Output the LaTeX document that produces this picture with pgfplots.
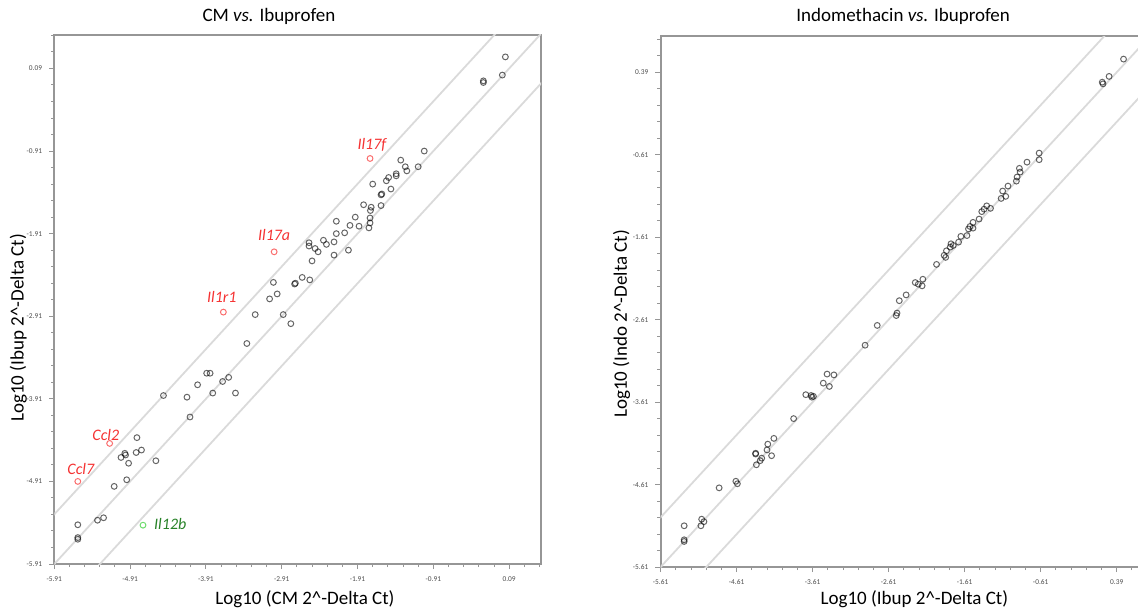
\documentclass[border=0pt]{standalone}
\usepackage{pgfplots}
\pgfplotsset{compat=1.18}
\usepackage{fontspec}
\setmainfont{Carlito}
\definecolor{axgray}{RGB}{150,150,150}
\definecolor{diaggray}{RGB}{218,218,218}
\definecolor{labred}{RGB}{245,50,50}
\definecolor{ptred}{RGB}{250,110,110}
\definecolor{labgreen}{RGB}{40,130,40}
\definecolor{ptgreen}{RGB}{110,220,110}
\pgfplotsset{
 myaxis/.style={
  scale only axis,
  axis line style={draw=axgray, line width=1pt},
  tick align=outside, tick pos=left,
  major tick length=2.6pt, minor tick length=1.6pt,
  every tick/.style={draw=axgray, line width=0.5pt},
  tick label style={font=\fontsize{3.7}{4.2}\selectfont, text=black!70},
  title style={font=\fontsize{9.5}{11}\selectfont, anchor=center, yshift=-6pt},
  xlabel style={font=\fontsize{9.5}{11}\selectfont, anchor=center},
  ylabel style={font=\fontsize{9.5}{11}\selectfont, anchor=center},
 },
 pts/.style={only marks, mark=o, mark size=1.45pt, mark options={draw=black, draw opacity=0.6, line width=0.5pt}},
 diag/.style={draw=diaggray, line width=0.9pt, no marks},
}
\tikzset{glab/.style={font=\fontsize{8}{9}\selectfont\itshape}}
\begin{document}
\begin{tikzpicture}
% ---------------- left panel
\begin{axis}[myaxis,
  at={(27.15pt,21.5pt)}, anchor=south west,
  width=243.35pt, height=264.7pt,
  xmin=-5.91, xmax=0.51, ymin=-5.91, ymax=0.5,
  xtick={-5.91,-4.91,-3.91,-2.91,-1.91,-0.91,0.09},
  xticklabels={-5.91,-4.91,-3.91,-2.91,-1.91,-0.91,0.09},
  ytick={-5.91,-4.91,-3.91,-2.91,-1.91,-0.91,0.09},
  yticklabels={-5.91,-4.91,-3.91,-2.91,-1.91,-0.91,0.09},
  minor xtick={-5.71,-5.51,...,0.49},
  minor ytick={-5.71,-5.51,...,0.49},
  title={CM \textit{vs.} Ibuprofen},
  title style={at={(axis description cs:0.441,1.035)}},
  xlabel={Log10 (CM 2\^{}-Delta Ct)},
  xlabel style={at={(axis description cs:0.515,-0.066)}},
  ylabel={Log10 (Ibup 2\^{}-Delta Ct)},
  ylabel style={at={(axis description cs:-0.074,0.446)}},
]
\addplot[diag] coordinates {(-7,-7) (1,1)};
\addplot[diag] coordinates {(-7,-6.398) (1,1.602)};
\addplot[diag] coordinates {(-7,-7.602) (1,0.398)};
\addplot[pts] table[row sep=\\] {
x y\\
0.04 0.23\\ 0.00 0.01\\ -0.25 -0.06\\ -0.25 -0.08\\
-1.03 -0.91\\ -1.34 -1.02\\ -1.28 -1.10\\ -1.26 -1.15\\ -1.11 -1.10\\
-1.40 -1.185\\ -1.40 -1.21\\ -1.50 -1.23\\ -1.53 -1.27\\ -1.71 -1.31\\
-1.47 -1.37\\ -1.59 -1.43\\ -1.60 -1.44\\ -1.83 -1.56\\ -1.73 -1.59\\
-1.60 -1.57\\ -1.74 -1.63\\ -1.745 -1.72\\ -1.745 -1.78\\ -1.76 -1.84\\
-1.89 -1.82\\ -1.94 -1.71\\ -2.01 -1.81\\ -2.19 -1.76\\ -2.08 -1.90\\
-2.19 -1.91\\ -2.22 -2.01\\ -2.32 -2.04\\ -2.36 -1.99\\ -2.55 -2.02\\
-2.55 -2.06\\ -2.47 -2.09\\ -2.43 -2.13\\ -2.22 -2.17\\ -2.03 -2.11\\
-2.51 -2.24\\ -2.64 -2.44\\ -2.54 -2.47\\ -2.73 -2.51\\ -2.74 -2.52\\
-3.02 -2.50\\ -2.97 -2.64\\ -3.07 -2.70\\ -3.26 -2.89\\ -2.89 -2.89\\
-2.79 -3.00\\ -3.37 -3.24\\ -3.90 -3.60\\ -3.855 -3.60\\ -4.02 -3.74\\
-3.69 -3.70\\ -3.61 -3.65\\ -3.82 -3.84\\ -3.52 -3.84\\ -4.47 -3.87\\
-4.16 -3.89\\ -4.12 -4.13\\ -4.82 -4.38\\ -4.98 -4.57\\ -5.03 -4.62\\
-4.97 -4.59\\ -4.83 -4.56\\ -4.76 -4.53\\ -4.93 -4.69\\ -4.57 -4.66\\
-5.12 -4.97\\ -4.955 -4.89\\ -5.60 -5.435\\ -5.60 -5.59\\ -5.60 -5.61\\
-5.34 -5.38\\ -5.26 -5.35\\
};
\addplot[only marks, mark=o, mark size=1.45pt, mark options={draw=ptred, line width=0.5pt}] coordinates {
(-1.745,-1.00) (-3.01,-2.13) (-3.68,-2.86) (-5.18,-4.45) (-5.60,-4.91)};
\addplot[only marks, mark=o, mark size=1.45pt, mark options={draw=ptgreen, line width=0.5pt}] coordinates {(-4.74,-5.44)};
\node[glab, text=labred] at (axis cs:-1.72,-0.84) {Il17f};
\node[glab, text=labred] at (axis cs:-3.01,-1.93) {Il17a};
\node[glab, text=labred] at (axis cs:-3.70,-2.68) {Il1r1};
\node[glab, text=labred] at (axis cs:-5.23,-4.35) {Ccl2};
\node[glab, text=labred] at (axis cs:-5.56,-4.76) {Ccl7};
\node[glab, text=labgreen] at (axis cs:-4.38,-5.43) {Il12b};
\end{axis}
% ---------------- right panel
\begin{axis}[myaxis,
  at={(330.3pt,20pt)}, anchor=south west,
  width=244pt, height=265.5pt,
  xmin=-5.61, xmax=0.81, ymin=-5.61, ymax=0.83,
  xtick={-5.61,-4.61,-3.61,-2.61,-1.61,-0.61,0.39},
  xticklabels={-5.61,-4.61,-3.61,-2.61,-1.61,-0.61,0.39},
  ytick={-5.61,-4.61,-3.61,-2.61,-1.61,-0.61,0.39},
  yticklabels={-5.61,-4.61,-3.61,-2.61,-1.61,-0.61,0.39},
  minor xtick={-5.41,-5.21,...,0.79},
  minor ytick={-5.41,-5.21,...,0.79},
  title={Indomethacin \textit{vs.} Ibuprofen},
  title style={at={(axis description cs:0.497,1.0377)}},
  xlabel={Log10 (Ibup 2\^{}-Delta Ct)},
  xlabel style={at={(axis description cs:0.52,-0.061)}},
  ylabel={Log10 (Indo 2\^{}-Delta Ct)},
  ylabel style={at={(axis description cs:-0.080,0.458)}},
]
\addplot[diag] coordinates {(-7,-7) (1,1)};
\addplot[diag] coordinates {(-7,-6.398) (1,1.602)};
\addplot[diag] coordinates {(-7,-7.602) (1,0.398)};
\addplot[pts] table[row sep=\\] {
x y\\
0.48 0.55\\ 0.29 0.34\\ 0.20 0.27\\ 0.21 0.25\\
-0.63 -0.59\\ -0.63 -0.67\\ -0.79 -0.70\\ -0.89 -0.775\\ -0.88 -0.82\\
-0.92 -0.88\\ -0.93 -0.93\\ -1.04 -0.99\\ -1.11 -1.05\\ -1.07 -1.115\\
-1.13 -1.14\\ -1.27 -1.26\\ -1.32 -1.23\\ -1.355 -1.27\\ -1.385 -1.30\\
-1.42 -1.39\\ -1.50 -1.43\\ -1.54 -1.48\\ -1.56 -1.51\\ -1.50 -1.50\\
-1.58 -1.59\\ -1.66 -1.60\\ -1.69 -1.67\\ -1.76 -1.71\\ -1.79 -1.69\\
-1.80 -1.73\\ -1.85 -1.775\\ -1.88 -1.83\\ -1.86 -1.855\\ -1.98 -1.94\\
-2.16 -2.12\\ -2.26 -2.16\\ -2.22 -2.18\\ -2.17 -2.20\\ -2.38 -2.31\\
-2.47 -2.38\\ -2.50 -2.53\\ -2.51 -2.56\\ -2.76 -2.68\\ -2.92 -2.92\\
-3.42 -3.27\\ -3.33 -3.28\\ -3.47 -3.38\\ -3.39 -3.42\\ -3.70 -3.52\\
-3.63 -3.53\\ -3.62 -3.55\\ -3.60 -3.54\\ -3.86 -3.81\\ -4.12 -4.05\\
-4.20 -4.12\\ -4.21 -4.19\\ -4.15 -4.26\\ -4.36 -4.23\\ -4.36 -4.24\\
-4.28 -4.29\\ -4.30 -4.32\\ -4.35 -4.37\\ -4.62 -4.57\\ -4.60 -4.60\\
-4.84 -4.65\\ -5.07 -5.03\\ -5.04 -5.06\\ -5.08 -5.11\\ -5.30 -5.11\\
-5.30 -5.28\\ -5.30 -5.30\\
};
\end{axis}
\pgfresetboundingbox
\path[use as bounding box] (0,0) rectangle (569pt,303.5pt);
\end{tikzpicture}
\end{document}
